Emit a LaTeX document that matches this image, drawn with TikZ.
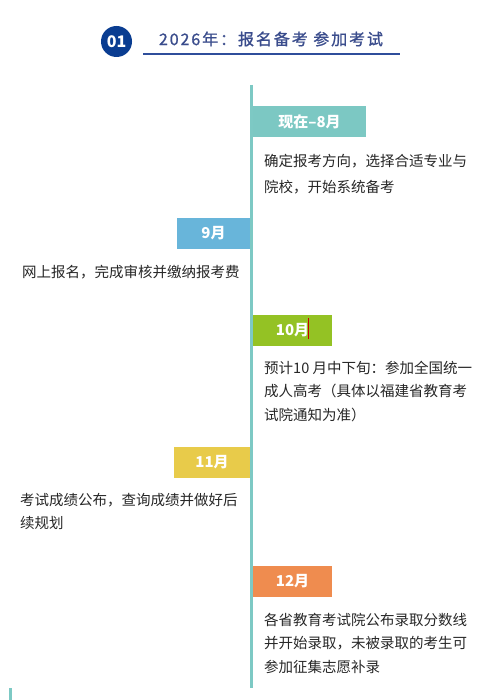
\documentclass[tikz,border=0pt]{standalone}
\usepackage{fontspec}
\setmainfont{Noto Sans CJK SC}
\newfontfamily\titlefont[LetterSpace=12,FakeBold=1.2]{Noto Sans CJK SC}
\definecolor{lineteal}{HTML}{7DC9C4}
\definecolor{cA}{HTML}{7CC8C3}
\definecolor{cB}{HTML}{68B5DA}
\definecolor{cC}{HTML}{94C224}
\definecolor{cD}{HTML}{E8CB4A}
\definecolor{cE}{HTML}{EF8C4F}
\definecolor{navy}{HTML}{0A3D91}
\definecolor{titleblue}{HTML}{3A4C8C}
\definecolor{ruleblue}{HTML}{2F4E9B}
\definecolor{bodytext}{HTML}{262626}
\tikzset{
  lbl/.style={rectangle, inner sep=0pt, minimum height=31, text=white,
    font=\fontsize{15}{18}\selectfont\bfseries},
  body/.style={inner sep=0pt, align=left, text=bodytext},
}
\begin{document}
\begin{tikzpicture}[x=1pt,y=-1pt]
\useasboundingbox (0,0) rectangle (501,700);
% header
\node[circle, fill=navy, minimum size=31, inner sep=0pt, text=white,
  font=\fontsize{16}{18}\selectfont\bfseries] (num) at (116.5,41.5) {01};
\node[anchor=center, inner sep=0pt, text=titleblue,
  font=\fontsize{16}{18}\selectfont\titlefont] (title) at (271,39) {2026年：报名备考 参加考试};
\coordinate (ruleL) at (143,54);
\coordinate (ruleR) at (400,54);
\draw[ruleblue, line width=1.3] (ruleL) -- (ruleR);
% timeline
\coordinate (top) at (251.5,85);
\coordinate (bot) at (251.5,688);
\draw[lineteal, line width=3] (top) -- (bot);
% labels
\node[lbl, fill=cA, minimum width=113] (m1) at (309.5,121.5) {现在–8月};
\node[lbl, fill=cB, minimum width=73] (m9) at (213.5,233.5) {9月};
\node[lbl, fill=cC, minimum width=79] (m10) at (292.5,330) {10月};
\node[lbl, fill=cD, minimum width=76] (m11) at (212,462.5) {11月};
\node[lbl, fill=cE, minimum width=79] (m12) at (292.5,581.5) {12月};
\coordinate (curT) at (308,318);
\coordinate (curB) at (308,339);
\draw[red!80!black, line width=0.8] (curT) -- (curB);
% texts
\node[body, anchor=north west, font=\fontsize{14.5}{26}\selectfont] (t1) at (264,153.7)
  {确定报考方向，选择合适专业与\\院校，开始系统备考};
\node[body, anchor=north west, font=\fontsize{14.5}{23.5}\selectfont] (t9) at (22,264.7)
  {网上报名，完成审核并缴纳报考费};
\node[body, anchor=north west, font=\fontsize{14.5}{23.5}\selectfont] (t10) at (264,360.7)
  {预计10 月中下旬：参加全国统一\\成人高考（具体以福建省教育考\\试院通知为准）};
\node[body, anchor=north west, font=\fontsize{14.5}{23}\selectfont] (t11) at (20,492.7)
  {考试成绩公布，查询成绩并做好后\\续规划};
\node[body, anchor=north west, font=\fontsize{14.5}{23.5}\selectfont] (t12) at (264,612.7)
  {各省教育考试院公布录取分数线\\并开始录取，未被录取的考生可\\参加征集志愿补录};
% bottom-left fragment
\fill[lineteal] (9,688) rectangle (12,700);
\end{tikzpicture}
\end{document}
